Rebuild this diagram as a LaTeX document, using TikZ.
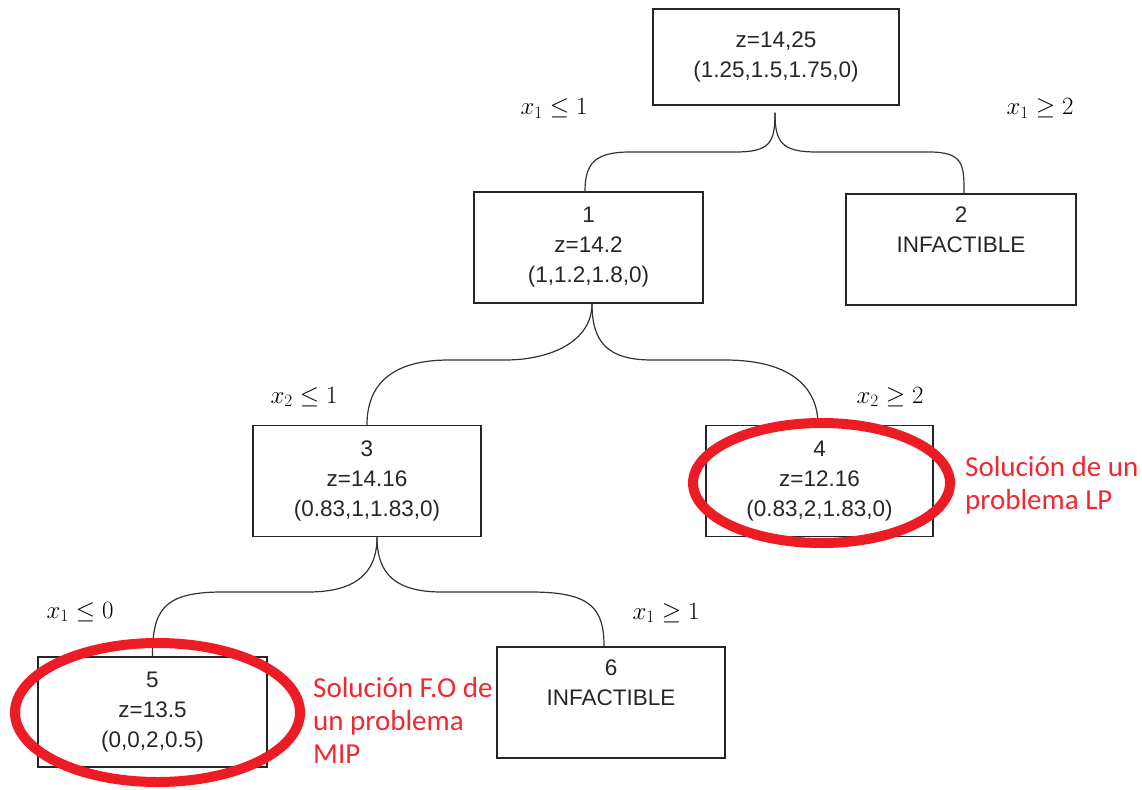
\documentclass[tikz,border=0pt]{standalone}
\usepackage[no-math]{fontspec}
\setmainfont{Liberation Sans}
\newfontfamily\redfont{Carlito}
\usetikzlibrary{shapes.geometric}
\definecolor{mred}{RGB}{237,28,36}
\definecolor{tred}{RGB}{240,40,50}
\begin{document}
\begin{tikzpicture}[x=1pt,y=-1pt,
  box/.style={draw=black!85, line width=1.5pt, minimum width=228pt, minimum height=111pt,
    align=center, font=\fontsize{22.5}{30}\selectfont, inner sep=0pt, text=black!85},
  conn/.style={line width=1.2pt, draw=black!80},
  lbl/.style={font=\fontsize{27}{30}\selectfont, anchor=base, inner sep=0pt, text=black},
  redring/.style={ellipse, draw=mred, line width=10pt, inner sep=0pt},
  note/.style={text=tred, font=\redfont\fontsize{29}{33}\selectfont, align=left,
    anchor=north west, inner sep=0pt}]
\useasboundingbox (0,0) rectangle (1142,789);

% boxes
\node[box, minimum width=246pt, minimum height=96pt] (r) at (776,57) {z=14,25\\(1.25,1.5,1.75,0)};
\node[box, minimum width=229pt] (n1) at (588.5,247.5) {1\\z=14.2\\(1,1.2,1.8,0)};
\node[box, minimum width=230pt] (n2) at (961,249.5) {2\\INFACTIBLE\\\strut};
\node[box] (n3) at (367,481) {3\\z=14.16\\(0.83,1,1.83,0)};
\node[box, minimum width=227pt] (n4) at (819.5,481) {4\\z=12.16\\(0.83,2,1.83,0)};
\node[box, minimum width=229pt, minimum height=110pt] (n5) at (152.5,712) {5\\z=13.5\\(0,0,2,0.5)};
\node[box] (n6) at (611,702.5) {6\\INFACTIBLE\\\strut};

% connectors
\draw[conn] ([xshift=-1pt,yshift=-7pt]r.south) .. controls +(0,30) and +(35,0) .. (735,152)
  -- (630,152) .. controls +(-35,0) and +(0,-28) .. ([xshift=-3.5pt]n1.north);
\draw[conn] ([xshift=-1pt,yshift=-7pt]r.south) .. controls +(0,30) and +(-35,0) .. (817,152)
  -- (929,152) .. controls +(35,0) and +(0,-28) .. ([xshift=3pt]n2.north);

\draw[conn] ([xshift=3.5pt]n1.south) .. controls +(0,38) and +(45,0) .. (505,360)
  -- (449,360) .. controls +(-60,0) and +(0,-38) .. (n3.north);
\draw[conn] ([xshift=3.5pt]n1.south) .. controls +(0,38) and +(-45,0) .. (652,360)
  -- (725,360) .. controls +(65,0) and +(0,-38) .. ([xshift=-1.5pt]n4.north);

\draw[conn] ([xshift=10pt]n3.south) .. controls +(0,38) and +(45,0) .. (308,592)
  -- (222,592) .. controls +(-60,0) and +(0,-45) .. (n5.north);
\draw[conn] ([xshift=10pt]n3.south) .. controls +(0,38) and +(-45,0) .. (442,592)
  -- (531,592) .. controls +(60,0) and +(0,-38) .. ([xshift=-7pt]n6.north);

% branch labels
\node[lbl] (l1) at (554,115) {$x_1 \le 1$};
\node[lbl] (l2) at (1040,115) {$x_1 \ge 2$};
\node[lbl] (l3) at (304,403) {$x_2 \le 1$};
\node[lbl] (l4) at (890,403) {$x_2 \ge 2$};
\node[lbl] (l5) at (80,618) {$x_1 \le 0$};
\node[lbl] (l6) at (666,619) {$x_1 \ge 1$};

% red annotations
\node[redring, minimum width=257pt, minimum height=120pt] (e4) at (821.5,483) {};
\node[redring, minimum width=285pt, minimum height=139pt] (e5) at (157.5,712.5) {};
\node[note] (t4) at (965,456) {Solución de un\\problema LP};
\node[note] (t5) at (313,677) {Solución F.O de\\un problema\\MIP};
\end{tikzpicture}
\end{document}
